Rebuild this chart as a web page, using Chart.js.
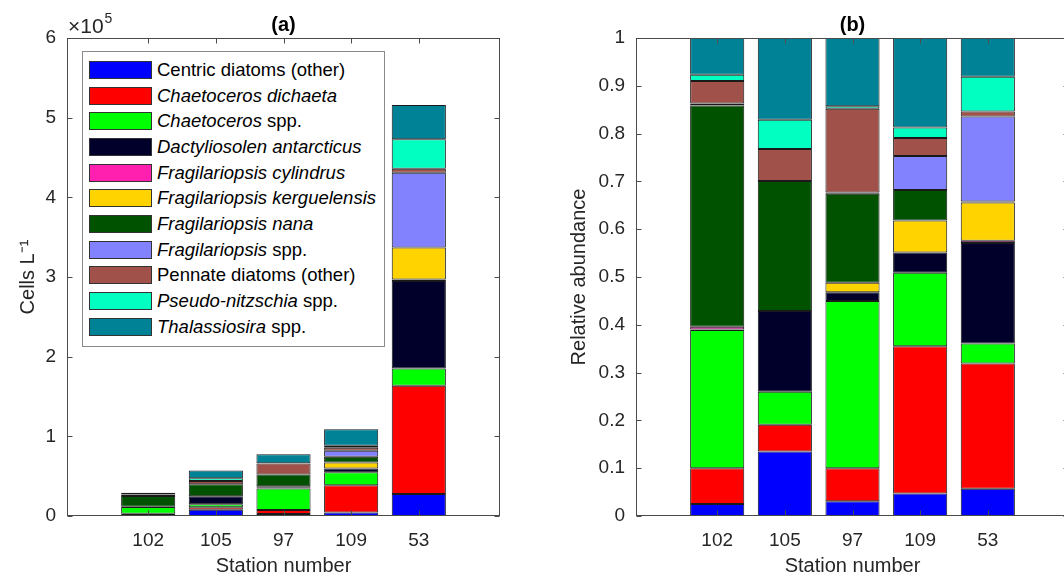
<!DOCTYPE html>
<html>
<head>
<meta charset="utf-8">
<script src="https://cdn.jsdelivr.net/npm/chart.js@4/dist/chart.umd.min.js"></script>
<style>
  html, body { margin: 0; padding: 0; background: #fff; }
  body { width: 1064px; height: 579px; overflow: hidden; position: relative; font-family: "Liberation Sans", Arial, sans-serif; }
  #wrapA { position: absolute; left: 0; top: 0; width: 532px; height: 579px; }
  #wrapB { position: absolute; left: 532px; top: 0; width: 560px; height: 579px; }
  #legend { position: absolute; left: 82px; top: 51px; width: 301px; height: 289px; border: 1px solid #8a8a8a; background: #fff; padding-top: 5px; box-sizing: content-box; }
  .row { height: 25.7px; display: flex; align-items: center; font-size: 18.5px; color: #000; white-space: nowrap; }
  .sw { width: 61px; height: 16px; border: 1px solid #333; margin-left: 6px; margin-right: 5px; flex: none; }
</style>
</head>
<body>
<div id="wrapA"><canvas id="chartA" width="532" height="579"></canvas></div>
<div id="wrapB"><canvas id="chartB" width="560" height="579"></canvas></div>
<div id="legend"></div>
<script>
// Stations (x categories)
const stations = ['102', '105', '97', '109', '53'];

// Taxa, bottom of the stack first
const taxa = [
  'Centric diatoms (other)', 'Chaetoceros dichaeta', 'Chaetoceros spp.',
  'Dactyliosolen antarcticus', 'Fragilariopsis cylindrus', 'Fragilariopsis kerguelensis',
  'Fragilariopsis nana', 'Fragilariopsis spp.', 'Pennate diatoms (other)',
  'Pseudo-nitzschia spp.', 'Thalassiosira spp.'
];
// Part of each name set in italics
const taxaItalic = [
  '', 'Chaetoceros dichaeta', 'Chaetoceros', 'Dactyliosolen antarcticus',
  'Fragilariopsis cylindrus', 'Fragilariopsis kerguelensis', 'Fragilariopsis nana',
  'Fragilariopsis', '', 'Pseudo-nitzschia', 'Thalassiosira'
];
const taxaColors = [
  '#0000ff', '#ff0000', '#00ff00', '#00002a', '#ff20b0', '#ffd300',
  '#005200', '#8282ff', '#a0524a', '#00ffc0', '#008296'
];

// (a) cell counts, cells per litre, one array per taxon across stations
const centricCells     = [700, 7800, 2400, 4500, 27600];
const dichaetaCells    = [2200, 3200, 5000, 34000, 135800];
const chaetoCells      = [8400, 3600, 27200, 16500, 21600];
const dactylioCells    = [0, 10200, 1400, 4500, 110000];
const cylindrusCells   = [200, 0, 0, 0, 2000];
const kerguelensisCells= [0, 0, 1500, 7500, 40000];
const nanaCells        = [13500, 15200, 14500, 7300, 0];
const fragSppCells     = [100, 0, 200, 7500, 94000];
const pennateCells     = [1400, 3900, 13700, 4000, 5000];
const pseudoCells      = [400, 3500, 400, 2500, 37000];
const thalCells        = [2200, 9800, 11100, 20700, 43000];

// (b) relative abundance
const centricRel      = [0.025, 0.135, 0.031, 0.047, 0.057];
const dichaetaRel     = [0.075, 0.056, 0.069, 0.308, 0.262];
const chaetoRel       = [0.289, 0.069, 0.350, 0.154, 0.042];
const dactylioRel     = [0.001, 0.169, 0.018, 0.042, 0.210];
const cylindrusRel    = [0.006, 0, 0, 0, 0.005];
const kerguelensisRel = [0, 0, 0.020, 0.067, 0.080];
const nanaRel         = [0.463, 0.272, 0.186, 0.064, 0.002];
const fragSppRel      = [0.004, 0, 0.003, 0.071, 0.178];
const pennateRel      = [0.047, 0.067, 0.175, 0.038, 0.010];
const pseudoRel       = [0.013, 0.061, 0.005, 0.022, 0.073];
const thalRel         = [0.077, 0.171, 0.143, 0.187, 0.081];

const cellsSeries = [centricCells, dichaetaCells, chaetoCells, dactylioCells, cylindrusCells,
  kerguelensisCells, nanaCells, fragSppCells, pennateCells, pseudoCells, thalCells];
const relSeries = [centricRel, dichaetaRel, chaetoRel, dactylioRel, cylindrusRel,
  kerguelensisRel, nanaRel, fragSppRel, pennateRel, pseudoRel, thalRel];

const FONT = '"Liberation Sans", Arial, sans-serif';
Chart.defaults.font.family = FONT;
Chart.defaults.color = '#262626';

// Box, inward ticks, panel title and exponent label
const framePlugin = {
  id: 'frame',
  afterDraw(chart, args, opts) {
    const { ctx, chartArea: a, scales } = chart;
    const L = Math.round(a.left) + 0.5, R = Math.round(a.right) - 0.5;
    const T = Math.round(a.top) + 0.5, B = Math.round(a.bottom) - 0.5;
    ctx.save();
    ctx.strokeStyle = '#4a4a4a';
    ctx.lineWidth = 1;
    ctx.beginPath();
    scales.x.ticks.forEach(t => {
      const px = Math.round(scales.x.getPixelForValue(t.value)) + 0.5;
      ctx.moveTo(px, B); ctx.lineTo(px, B - 5);
      ctx.moveTo(px, T); ctx.lineTo(px, T + 5);
    });
    scales.y.ticks.forEach(t => {
      const py = Math.round(scales.y.getPixelForValue(t.value)) + 0.5;
      ctx.moveTo(L, py); ctx.lineTo(L + 5, py);
      ctx.moveTo(R, py); ctx.lineTo(R - 5, py);
    });
    ctx.stroke();
    ctx.strokeRect(L, T, R - L, B - T);

    ctx.fillStyle = '#000';
    ctx.textAlign = 'center';
    ctx.textBaseline = 'alphabetic';
    ctx.font = 'bold 20px ' + FONT;
    ctx.fillText(opts.title, (a.left + a.right) / 2, 31);

    if (opts.exponent) {
      ctx.fillStyle = '#262626';
      ctx.textAlign = 'left';
      ctx.font = '21px ' + FONT;
      ctx.fillText('\u00d710', a.left + 1, 33);
      const w = ctx.measureText('\u00d710').width;
      ctx.font = '14px ' + FONT;
      ctx.fillText(opts.exponent, a.left + w + 2, 23);
    }
    ctx.restore();
  }
};

function buildDatasets(series) {
  return series.map((vals, k) => ({
    label: taxa[k],
    data: vals.map((v, i) => ({ x: i + 1, y: v })),
    backgroundColor: taxaColors[k],
    borderColor: '#1a1a1a',
    borderWidth: 1,
    borderSkipped: false,
    barPercentage: 1,
    categoryPercentage: 0.8
  }));
}

function xScale() {
  return {
    type: 'linear',
    stacked: true,
    offset: false,
    bounds: 'data',
    min: -0.2,
    max: 6.2,
    grid: { display: false, drawTicks: false, offset: false },
    border: { display: false },
    afterBuildTicks: s => {
      s.ticks = stations.map((_, i) => ({ value: i + 1 }));
    },
    afterFit: s => { s.height = 63; },
    ticks: {
      autoSkip: false,
      maxRotation: 0,
      stepSize: 1,
      padding: 13,
      color: '#262626',
      font: { size: 19 },
      callback: v => stations[v - 1]
    },
    title: { display: true, text: 'Station number', color: '#262626', font: { size: 20 }, padding: { top: 0, bottom: 1 } }
  };
}

function makeChart(canvas, series, yOpts, yWidth, padRight, frameOpts) {
  return new Chart(canvas, {
    type: 'bar',
    data: { datasets: buildDatasets(series) },
    options: {
      responsive: false,
      animation: false,
      layout: { padding: { top: 38, right: padRight, bottom: 0, left: 0 } },
      plugins: {
        legend: { display: false },
        tooltip: { enabled: false },
        frame: frameOpts
      },
      scales: {
        x: xScale(),
        y: Object.assign({
          stacked: true,
          grid: { display: false, drawTicks: false },
          border: { display: false },
          afterFit: s => { s.width = yWidth; }
        }, yOpts)
      }
    },
    plugins: [framePlugin]
  });
}

makeChart(document.getElementById('chartA'), cellsSeries, {
  min: 0,
  max: 600000,
  ticks: { stepSize: 100000, padding: 11, color: '#262626', font: { size: 19 }, callback: v => String(Math.round(v / 100000)) },
  title: { display: true, text: 'Cells L\u207b\u00b9', color: '#262626', font: { size: 20 }, padding: { top: 16, bottom: 0 } }
}, 67, 32, { title: '(a)', exponent: '5' });

makeChart(document.getElementById('chartB'), relSeries, {
  min: 0,
  max: 1,
  ticks: { stepSize: 0.1, padding: 11, color: '#262626', font: { size: 19 }, callback: v => String(Math.round(v * 10) / 10) },
  title: { display: true, text: 'Relative abundance', color: '#262626', font: { size: 20 }, padding: { top: 35, bottom: 0 } }
}, 104, 23, { title: '(b)' });

// Legend with italic species names
const legend = document.getElementById('legend');
taxa.forEach((name, k) => {
  const row = document.createElement('div');
  row.className = 'row';
  const sw = document.createElement('span');
  sw.className = 'sw';
  sw.style.background = taxaColors[k];
  row.appendChild(sw);
  const it = taxaItalic[k];
  const txt = document.createElement('span');
  if (it) {
    const i = document.createElement('i');
    i.textContent = it;
    txt.appendChild(i);
    txt.appendChild(document.createTextNode(name.slice(it.length)));
  } else {
    txt.textContent = name;
  }
  row.appendChild(txt);
  legend.appendChild(row);
});
</script>
</body>
</html>
